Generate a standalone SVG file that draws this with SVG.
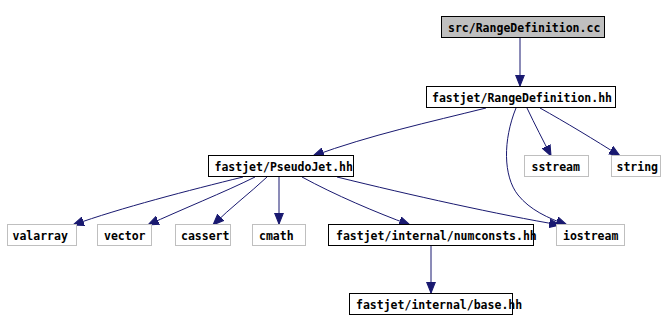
<svg xmlns="http://www.w3.org/2000/svg" width="664" height="332" viewBox="0 0 664 332">
<style>
.n rect{fill:#fff;stroke:#000;stroke-width:1}
.s rect{fill:#fff;stroke:#bfbfbf;stroke-width:1}
.r rect{fill:#bfbfbf;stroke:#000;stroke-width:1}
text{font-family:"DejaVu Sans Mono","Liberation Mono",monospace;font-size:11.5px;font-weight:bold;fill:#000}
#edges path{fill:none;stroke:#191970;stroke-width:1;marker-end:url(#ah)}
</style>
<defs>
<marker id="ah" markerUnits="userSpaceOnUse" markerWidth="12" markerHeight="10" refX="10" refY="4" orient="auto" viewBox="0 0 11 8">
<path d="M0,0 L10,4 L0,8 z" fill="#191970" stroke="#191970"/>
</marker>
</defs>
<rect width="664" height="332" fill="#fff"/>
<g id="edges">
<path d="M520,38 L520,86"/>
<path d="M486,108 C430,122 370,135 313,156"/>
<path d="M527,108 C535,125 543,140 551,156"/>
<path d="M540,108 C565,122 595,140 620,156"/>
<path d="M516,108 C503,140 503,176 518,195 C530,210 548,218 567,225"/>
<path d="M243,177 C190,190 120,208 73,225"/>
<path d="M255,177 C225,192 180,210 148,225"/>
<path d="M267,177 C250,193 230,208 213,225"/>
<path d="M279,177 L279,224"/>
<path d="M302,177 C335,195 375,212 410,225"/>
<path d="M337,177 C410,195 500,215 560,225"/>
<path d="M431,246 L431,293"/>
</g>
<g id="src" class="r"><rect x="441.5" y="16.5" width="163" height="21"/><text x="448" y="32">src/RangeDefinition.cc</text></g>
<g id="rangedef" class="n"><rect x="426.5" y="86.5" width="189" height="21"/><text x="432" y="102">fastjet/RangeDefinition.hh</text></g>
<g id="pseudojet" class="n"><rect x="208.5" y="155.5" width="145" height="21"/><text x="214.5" y="171">fastjet/PseudoJet.hh</text></g>
<g id="sstream" class="s"><rect x="524.5" y="155.5" width="64" height="21"/><text x="531.5" y="171">sstream</text></g>
<g id="string" class="s"><rect x="611.5" y="155.5" width="49" height="21"/><text x="616.5" y="171">string</text></g>
<g id="valarray" class="s"><rect x="7.5" y="224.5" width="69" height="21"/><text x="12.5" y="240">valarray</text></g>
<g id="vector" class="s"><rect x="97.5" y="224.5" width="54" height="21"/><text x="104" y="240">vector</text></g>
<g id="cassert" class="s"><rect x="175.5" y="224.5" width="55" height="21"/><text x="181" y="240">cassert</text></g>
<g id="cmath" class="s"><rect x="252.5" y="224.5" width="53" height="21"/><text x="259" y="240">cmath</text></g>
<g id="numconsts" class="n"><rect x="328.5" y="224.5" width="205" height="21"/><text x="336" y="240">fastjet/internal/numconsts.hh</text></g>
<g id="iostream" class="s"><rect x="556.5" y="224.5" width="68" height="21"/><text x="563" y="240">iostream</text></g>
<g id="base" class="n"><rect x="349.5" y="293.5" width="163" height="21"/><text x="356" y="309">fastjet/internal/base.hh</text></g>
</svg>
